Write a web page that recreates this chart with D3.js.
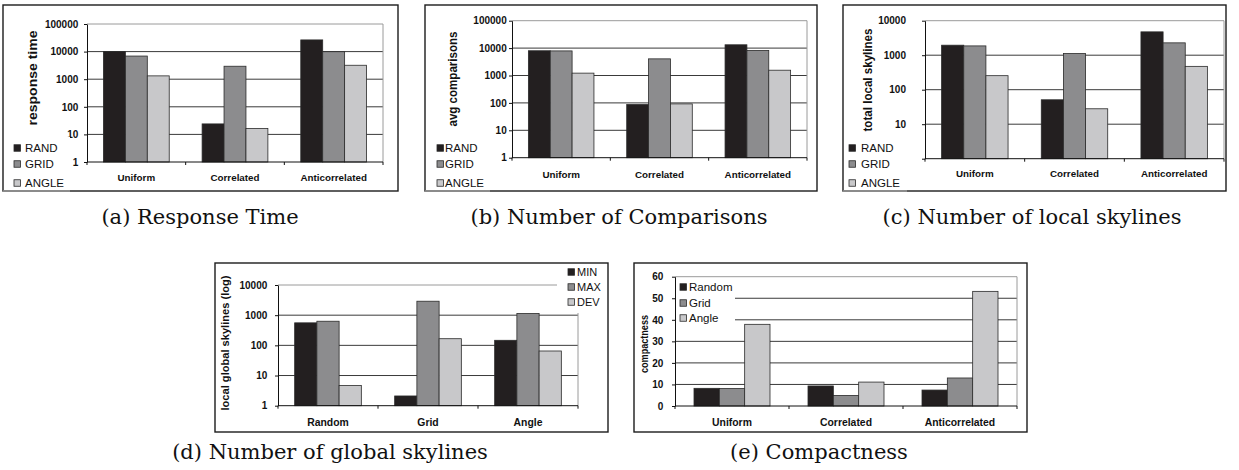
<!DOCTYPE html>
<html>
<head>
<meta charset="utf-8">
<script src="https://cdn.jsdelivr.net/npm/d3@7"></script>
<style>
  body { margin: 0; background: #fff; }
  svg { display: block; }
  text { font-family: "Liberation Sans", Arial, sans-serif; fill: #111; }
  .caption { font-family: "DejaVu Serif", "Liberation Serif", serif; }
</style>
</head>
<body>
<svg id="fig" width="1239" height="470"></svg>
<script>
// ---- data ----
const distributions = ["Uniform", "Correlated", "Anticorrelated"];
const partitionings = ["Random", "Grid", "Angle"];
const methodSeries = ["RAND", "GRID", "ANGLE"];
const statSeries = ["MIN", "MAX", "DEV"];
const compactSeries = ["Random", "Grid", "Angle"];

const logTicks5 = [1, 10, 100, 1000, 10000, 100000];
const logTicks4 = [1, 10, 100, 1000, 10000];
const linearTicks = [0, 10, 20, 30, 40, 50, 60];

// (a) response time
const responseRand = [10000, 24, 26500];
const responseGrid = [6900, 2950, 9900];
const responseAngle = [1320, 16.5, 3200];
// (b) average comparisons
const comparisonsRand = [8000, 87, 13200];
const comparisonsGrid = [7900, 4050, 8200];
const comparisonsAngle = [1220, 92, 1560];
// (c) total local skylines
const localRand = [1950, 51, 4750];
const localGrid = [1860, 1120, 2280];
const localAngle = [255, 28, 475];
// (d) local global skylines
const globalMin = [557, 2.1, 147];
const globalMax = [630, 2900, 1135];
const globalDev = [4.7, 166, 65];
// (e) compactness
const compactRandom = [8.2, 9.3, 7.4];
const compactGrid = [8.1, 4.9, 13.0];
const compactAngle = [37.9, 11.1, 53.2];

const seriesColors = ["#231f20", "#8c8c8e", "#c8c8ca"];

// ---- layout of the five panels ----
const panels = [
  { categories: distributions, series: methodSeries, values: [responseRand, responseGrid, responseAngle],
    log: true, ticks: logTicks5, box: [3, 5, 398, 191], plot: { left: 87, right: 383, top: 24, bottom: 162 },
    tickPad: 5.7, tickFont: 10, catY: 181, catFont: 9.8,
    yTitle: "response time", yTitleAt: [33, 78], yTitleLen: 95, yTitleFont: 12.5, yTitleWeight: "bold",
    legend: { sq: 14, text: 25, rows: [148, 164, 183], font: 11.5, bg: [4, 137, 70, 190], underline: true },
    caption: "(a) Response Time", capAt: [200, 224] },
  { categories: distributions, series: methodSeries, values: [comparisonsRand, comparisonsGrid, comparisonsAngle],
    log: true, ticks: logTicks5, box: [425, 5, 817, 191], plot: { left: 512, right: 807, top: 20.7, bottom: 157.7 },
    tickPad: 2.3, tickFont: 10, catY: 178, catFont: 9.8,
    yTitle: "avg comparisons", yTitleAt: [453, 79], yTitleLen: 95, yTitleFont: 12.5, yTitleWeight: "bold",
    legend: { sq: 437, text: 445, rows: [148, 164, 183], font: 11.5, bg: [426, 137, 490, 190], underline: true },
    caption: "(b) Number of Comparisons", capAt: [619, 224] },
  { categories: distributions, series: methodSeries, values: [localRand, localGrid, localAngle],
    log: true, ticks: logTicks4, box: [843, 5, 1226, 191], plot: { left: 925, right: 1224, top: 20.7, bottom: 158.7 },
    tickPad: 16, tickFont: 10, catY: 177, catFont: 9.8,
    yTitle: "total local skylines", yTitleAt: [868, 80], yTitleLen: 103, yTitleFont: 12.5, yTitleWeight: "bold",
    legend: { sq: 849, text: 861, rows: [148, 164, 183], font: 11.5, bg: [844, 137, 907, 190], underline: true },
    caption: "(c) Number of local skylines", capAt: [1032, 224] },
  { categories: partitionings, series: statSeries, values: [globalMin, globalMax, globalDev],
    log: true, ticks: logTicks4, box: [215, 263, 608, 432], plot: { left: 278, right: 578, top: 285, bottom: 405.7 },
    tickPad: 7.7, tickFont: 10, catY: 426, catFont: 10.4,
    yTitle: "local global skylines (log)", yTitleAt: [225, 343], yTitleLen: 135, yTitleFont: 11.5, yTitleWeight: "bold",
    legend: { sq: 568, text: 577, rows: [272, 287, 302], font: 11, bg: [557, 264, 607, 313], underline: false },
    caption: "(d) Number of global skylines", capAt: [330, 459] },
  { categories: distributions, series: compactSeries, values: [compactRandom, compactGrid, compactAngle],
    log: false, ticks: linearTicks, box: [634, 263, 1027, 432], plot: { left: 675, right: 1017, top: 276.7, bottom: 406 },
    tickPad: 8.7, tickFont: 10, catY: 426, catFont: 10.4,
    yTitle: "compactness", yTitleAt: [644, 344], yTitleLen: 58, yTitleFont: 11, yTitleWeight: "bold",
    legend: { sq: 680, text: 689, rows: [287, 303, 318], font: 11.5, bg: [676, 278, 735, 328], underline: false },
    caption: "(e) Compactness", capAt: [819, 459] }
];

const svg = d3.select("#fig");

function drawPanel(p) {
  const g = svg.append("g");
  const [bx0, by0, bx1, by1] = p.box;
  const pl = p.plot;

  // outer frame
  g.append("rect")
    .attr("x", bx0).attr("y", by0)
    .attr("width", bx1 - bx0).attr("height", by1 - by0)
    .attr("fill", "#fff").attr("stroke", "#1c1c1c").attr("stroke-width", 1.4);

  const y = (p.log ? d3.scaleLog() : d3.scaleLinear())
    .domain([p.ticks[0], p.ticks[p.ticks.length - 1]])
    .range([pl.bottom, pl.top]);
  const x0 = d3.scaleBand().domain(p.categories).range([pl.left, pl.right]);
  const bw = x0.bandwidth();
  const x1 = d3.scaleBand().domain(p.series).range([bw / 6, bw * 5 / 6]);

  // horizontal gridlines
  g.selectAll("line.grid")
    .data(p.ticks.slice(1, -1))
    .join("line")
    .attr("x1", pl.left).attr("x2", pl.right)
    .attr("y1", d => y(d)).attr("y2", d => y(d))
    .attr("stroke", "#3a3a3a").attr("stroke-width", 1);

  // plot-area border (top and right)
  const yMax = y(p.ticks[p.ticks.length - 1]);
  g.append("path")
    .attr("d", `M${pl.left},${yMax}H${pl.right}V${pl.bottom}`)
    .attr("fill", "none").attr("stroke", "#9a9a9a").attr("stroke-width", 1);

  // bars
  const base = p.ticks[0];
  p.series.forEach((s, si) => {
    g.append("g").selectAll("rect")
      .data(p.categories.map((c, ci) => ({ c, v: p.values[si][ci] })))
      .join("rect")
      .attr("x", d => x0(d.c) + x1(s))
      .attr("width", x1.bandwidth())
      .attr("y", d => y(d.v))
      .attr("height", d => y(base) - y(d.v))
      .attr("fill", seriesColors[si])
      .attr("stroke", "#2a2a2a").attr("stroke-width", 0.8);
  });

  // value axis
  const yAxis = (p.log ? d3.axisLeft(y).tickValues(p.ticks).tickFormat(d3.format("d"))
                       : d3.axisLeft(y).tickValues(p.ticks))
    .tickSize(3).tickSizeOuter(0).tickPadding(p.tickPad);
  const ya = g.append("g").attr("transform", `translate(${pl.left},0)`).call(yAxis);
  ya.select(".domain").attr("stroke", "#111");
  ya.selectAll(".tick line").attr("stroke", "#111");
  ya.selectAll("text").attr("font-size", p.tickFont).attr("font-weight", "bold")
    .attr("font-family", "'Liberation Sans', Arial, sans-serif").attr("fill", "#111");

  // category axis: baseline with ticks at band boundaries, labels centered
  g.append("line")
    .attr("x1", pl.left).attr("x2", pl.right)
    .attr("y1", pl.bottom).attr("y2", pl.bottom)
    .attr("stroke", "#111");
  const bounds = p.categories.map(c => x0(c)).concat([pl.right]);
  g.selectAll("line.cat")
    .data(bounds)
    .join("line")
    .attr("x1", d => d).attr("x2", d => d)
    .attr("y1", pl.bottom).attr("y2", pl.bottom + 3)
    .attr("stroke", "#111");
  g.selectAll("text.cat")
    .data(p.categories)
    .join("text")
    .attr("x", d => x0(d) + bw / 2)
    .attr("y", p.catY)
    .attr("text-anchor", "middle")
    .attr("font-size", p.catFont).attr("font-weight", "bold")
    .text(d => d);

  // value-axis title
  g.append("text")
    .attr("transform", `translate(${p.yTitleAt[0]},${p.yTitleAt[1]}) rotate(-90)`)
    .attr("text-anchor", "middle")
    .attr("dy", "0.35em")
    .attr("font-size", p.yTitleFont).attr("font-weight", p.yTitleWeight)
    .attr("textLength", p.yTitleLen).attr("lengthAdjust", "spacingAndGlyphs")
    .text(p.yTitle);

  // legend
  const L = p.legend;
  g.append("rect")
    .attr("x", L.bg[0]).attr("y", L.bg[1])
    .attr("width", L.bg[2] - L.bg[0]).attr("height", L.bg[3] - L.bg[1])
    .attr("fill", "#fff");
  if (L.underline) {
    g.append("line")
      .attr("x1", bx0).attr("x2", L.bg[2])
      .attr("y1", by1).attr("y2", by1)
      .attr("stroke", "#9a9a9a").attr("stroke-width", 1.4);
  }
  const sq = 6.5;
  const items = g.selectAll("g.leg")
    .data(p.series)
    .join("g")
    .attr("transform", (d, i) => `translate(0,${L.rows[i]})`);
  items.append("rect")
    .attr("x", L.sq).attr("y", -sq / 2)
    .attr("width", sq).attr("height", sq)
    .attr("fill", (d, i) => seriesColors[i])
    .attr("stroke", "#2a2a2a").attr("stroke-width", 0.8);
  items.append("text")
    .attr("x", L.text).attr("dy", "0.36em")
    .attr("font-size", L.font)
    .text(d => d);

  // caption
  svg.append("text")
    .attr("class", "caption")
    .attr("x", p.capAt[0]).attr("y", p.capAt[1])
    .attr("text-anchor", "middle")
    .attr("font-size", 21)
    .text(p.caption);
}

panels.forEach(drawPanel);
</script>
</body>
</html>
